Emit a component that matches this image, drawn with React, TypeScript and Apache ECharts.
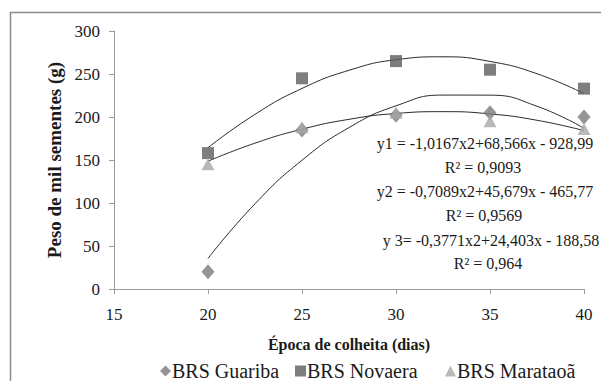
import React, { useEffect, useRef } from "react";
import * as echarts from "echarts";

const days = [20, 25, 30, 35, 40];
const guariba = [20, 185, 202, 205, 200];
const novaera = [158, 245, 265, 255, 233];
const marataoa = [145, 188, 205, 195, 186];

const trendX = [20, 22.5, 25, 27.5, 30, 32.5, 35, 37.5, 40];
const trendGuariba = [35.6, 99.1, 149.7, 187.7, 213.0, 225.5, 225.4, 212.5, 186.9];
const trendNovaera = [164.3, 203.1, 233.2, 254.3, 266.6, 270.0, 264.6, 250.3, 227.2];
const trendMarataoa = [148.6, 169.6, 185.8, 197.3, 204.1, 206.2, 203.6, 196.2, 184.2];

const seriesNames = ["BRS Guariba", "BRS Novaera", "BRS Marataoã"];
const legendLefts = [155, 290, 440];

const equations = [
  "y1 = -1,0167x2+68,566x - 928,99",
  "R² = 0,9093",
  "y2 = -0,7089x2+45,679x - 465,77",
  "R² = 0,9569",
  "y 3= -0,3771x2+24,403x - 188,58",
  "R² = 0,964",
];
const eqPos = [
  [485, 143],
  [483, 167],
  [485, 191],
  [484, 215],
  [491, 240],
  [488, 263],
];

const FONT = "Liberation Serif";

const pair = (xs: number[], ys: number[]) => xs.map((x, i) => [x, ys[i]]);

export default function App() {
  const ref = useRef<HTMLDivElement>(null);
  useEffect(() => {
    if (!ref.current) return;
    const chart = echarts.init(ref.current, null, { renderer: "svg" });
    const trendStyle = { color: "#2a2a2a", width: 1 };
    chart.setOption({
      animation: false,
      backgroundColor: "#ffffff",
      textStyle: { fontFamily: FONT },
      grid: { left: 114, right: 17, top: 31, bottom: 92 },
      xAxis: {
        type: "value",
        min: 15,
        max: 40,
        interval: 5,
        name: "Época de colheita (dias)",
        nameLocation: "middle",
        nameGap: 47,
        nameTextStyle: { fontFamily: FONT, fontSize: 16, fontWeight: "bold", color: "#1a1a1a" },
        axisLine: { lineStyle: { color: "#9a9a9a", width: 1 } },
        axisTick: { show: true, length: 5, lineStyle: { color: "#9a9a9a" } },
        axisLabel: { fontFamily: FONT, fontSize: 17, color: "#1a1a1a", margin: 17 },
        splitLine: { show: false },
      },
      yAxis: {
        type: "value",
        min: 0,
        max: 300,
        interval: 50,
        name: "Peso de mil sementes (g)",
        nameLocation: "middle",
        nameGap: 29,
        nameTextStyle: { fontFamily: FONT, fontSize: 19, fontWeight: "bold", color: "#1a1a1a" },
        axisLine: { show: true, lineStyle: { color: "#9a9a9a", width: 1 } },
        axisTick: { show: true, length: 5, lineStyle: { color: "#9a9a9a" } },
        axisLabel: { fontFamily: FONT, fontSize: 17, color: "#1a1a1a", margin: 14 },
        splitLine: { show: false },
      },
      legend: seriesNames.map((n, i) => ({
        data: [n],
        left: legendLefts[i],
        top: 356,
        itemWidth: 11,
        itemHeight: 11,
        textStyle: { fontFamily: FONT, fontSize: 20, color: "#1a1a1a", padding: [0, 0, 0, -4] },
      })),
      series: [
        {
          name: "trend1",
          type: "line",
          data: pair(trendX, trendGuariba),
          smooth: true,
          showSymbol: false,
          lineStyle: trendStyle,
          z: 1,
        },
        {
          name: "trend2",
          type: "line",
          data: pair(trendX, trendNovaera),
          smooth: true,
          showSymbol: false,
          lineStyle: trendStyle,
          z: 1,
        },
        {
          name: "trend3",
          type: "line",
          data: pair(trendX, trendMarataoa),
          smooth: true,
          showSymbol: false,
          lineStyle: trendStyle,
          z: 1,
        },
        {
          name: seriesNames[0],
          type: "scatter",
          symbol: "diamond",
          symbolSize: [13, 15],
          itemStyle: { color: "#7a7a7a" },
          data: pair(days, guariba),
          z: 3,
        },
        {
          name: seriesNames[1],
          type: "scatter",
          symbol: "rect",
          symbolSize: 12,
          itemStyle: { color: "#5e5e5e" },
          data: pair(days, novaera),
          z: 3,
        },
        {
          name: seriesNames[2],
          type: "scatter",
          symbol: "triangle",
          symbolSize: [13, 12],
          itemStyle: { color: "#a8a8a8" },
          data: pair(days, marataoa),
          z: 4,
        },
      ],
      graphic: [
        {
          type: "rect",
          shape: { x: 10.5, y: 12.5, width: 700, height: 500 },
          style: { fill: "none", stroke: "#8c8c8c", lineWidth: 1.5 },
          silent: true,
          z: 100,
        },
        ...equations.map((t, i) => ({
          type: "text",
          x: eqPos[i][0],
          y: eqPos[i][1],
          style: {
            text: t,
            fontFamily: FONT,
            fontSize: 16,
            fill: "#1a1a1a",
            textAlign: "center",
            textVerticalAlign: "middle",
          },
          z: 100,
        })),
      ],
    });
    return () => chart.dispose();
  }, []);
  return <div ref={ref} style={{ width: 601, height: 381, position: "absolute", left: 0, top: 0 }} />;
}
